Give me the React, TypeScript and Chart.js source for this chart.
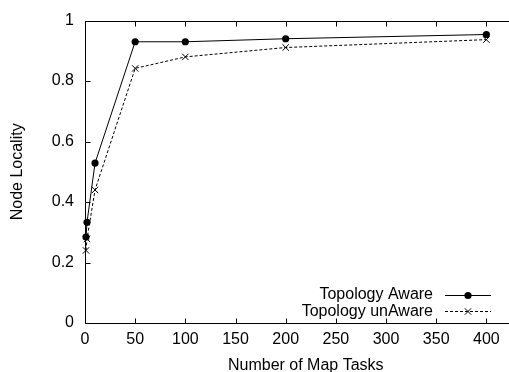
import React, { useEffect, useRef } from 'react';
import { Chart, registerables } from 'chart.js';

Chart.register(...registerables);

// ---- data ----
const mapTasks = [1, 2, 10, 50, 100, 200, 400];
const awareLocality = [0.284, 0.333, 0.529, 0.930, 0.930, 0.940, 0.954];
const unawareLocality = [0.240, 0.278, 0.440, 0.842, 0.880, 0.911, 0.937];
const seriesLabels = ['Topology Aware', 'Topology unAware'];
const xTickValues = [0, 50, 100, 150, 200, 250, 300, 350, 400];
const yTickValues = [0, 0.2, 0.4, 0.6, 0.8, 1];
const xTitle = 'Number of Map Tasks';
const yTitle = 'Node Locality';

const FONT = '"Liberation Sans", Arial, Helvetica, sans-serif';

const framePlugin = {
  id: 'gnuFrame',
  beforeDatasetsDraw(chart: any) {
    const { ctx, chartArea: a, scales } = chart;
    ctx.save();
    ctx.strokeStyle = '#000';
    ctx.lineWidth = 1;
    ctx.setLineDash([]);
    const L = Math.round(a.left) + 0.5;
    const R = Math.round(a.right) - 0.5;
    const T = Math.round(a.top) + 0.5;
    const B = Math.round(a.bottom) + 0.5;
    ctx.beginPath();
    ctx.moveTo(L, T);
    ctx.lineTo(R, T);
    ctx.lineTo(R, B);
    ctx.lineTo(L, B);
    ctx.closePath();
    const t = 5;
    scales.x.ticks.forEach((tk: any) => {
      const px = Math.round(scales.x.getPixelForValue(tk.value)) + 0.5;
      ctx.moveTo(px, B);
      ctx.lineTo(px, B - t);
      ctx.moveTo(px, T);
      ctx.lineTo(px, T + t);
    });
    scales.y.ticks.forEach((tk: any) => {
      const py = Math.round(scales.y.getPixelForValue(tk.value)) + 0.5;
      ctx.moveTo(L, py);
      ctx.lineTo(L + t, py);
      ctx.moveTo(R, py);
      ctx.lineTo(R - t, py);
    });
    ctx.stroke();
    ctx.restore();
  },
};

const keyPlugin = {
  id: 'gnuKey',
  afterDatasetsDraw(chart: any) {
    const { ctx } = chart;
    ctx.save();
    chart.data.datasets.forEach((ds: any, i: number) => {
      const y = 295 + i * 16.3;
      ctx.font = `16px ${FONT}`;
      ctx.fillStyle = '#000';
      ctx.textAlign = 'right';
      ctx.textBaseline = 'middle';
      ctx.fillText(ds.label, 433, y);
      ctx.strokeStyle = '#000';
      ctx.lineWidth = ds.borderWidth;
      ctx.setLineDash(ds.borderDash || []);
      ctx.beginPath();
      ctx.moveTo(445, Math.round(y) + 0.5);
      ctx.lineTo(491, Math.round(y) + 0.5);
      ctx.stroke();
      ctx.setLineDash([]);
      const mx = 468;
      const my = Math.round(y) + 0.5;
      if (ds.pointStyle === 'circle') {
        ctx.fillStyle = '#000';
        ctx.beginPath();
        ctx.arc(mx, my, ds.pointRadius, 0, Math.PI * 2);
        ctx.fill();
      } else {
        const r = ds.pointRadius * Math.SQRT1_2;
        ctx.beginPath();
        ctx.moveTo(mx - r, my - r);
        ctx.lineTo(mx + r, my + r);
        ctx.moveTo(mx - r, my + r);
        ctx.lineTo(mx + r, my - r);
        ctx.stroke();
      }
    });
    ctx.restore();
  },
};

export default function App() {
  const ref = useRef<HTMLCanvasElement>(null);

  useEffect(() => {
    Chart.defaults.font.family = FONT;
    Chart.defaults.color = '#000';
    const chart = new Chart(ref.current as HTMLCanvasElement, {
      type: 'line',
      data: {
        datasets: [
          {
            label: seriesLabels[0],
            data: mapTasks.map((x, i) => ({ x, y: awareLocality[i] })),
            borderColor: '#000',
            backgroundColor: '#000',
            borderWidth: 1,
            pointStyle: 'circle',
            pointRadius: 3.6,
            pointBorderWidth: 0,
            pointBackgroundColor: '#000',
            tension: 0,
            clip: false,
          } as any,
          {
            label: seriesLabels[1],
            data: mapTasks.map((x, i) => ({ x, y: unawareLocality[i] })),
            borderColor: '#000',
            backgroundColor: '#000',
            borderWidth: 1,
            borderDash: [3, 2],
            pointStyle: 'crossRot',
            pointRadius: 4.5,
            pointBorderWidth: 1,
            pointBorderColor: '#000',
            tension: 0,
            clip: false,
          } as any,
        ],
      },
      options: {
        responsive: false,
        animation: false,
        devicePixelRatio: 1,
        events: [],
        layout: { padding: { top: 16, left: 0, right: 0, bottom: 0 } },
        plugins: {
          legend: { display: false },
          tooltip: { enabled: false },
        },
        scales: {
          x: {
            type: 'linear',
            min: 0,
            max: 440,
            grid: { display: false, drawTicks: false },
            border: { display: false },
            afterBuildTicks: (s: any) => {
              s.ticks = xTickValues.map((v) => ({ value: v }));
            },
            afterFit: (s: any) => {
              s.height = 52;
            },
            ticks: {
              padding: 7,
              color: '#000',
              font: { size: 16 },
              maxRotation: 0,
              autoSkip: false,
              callback: (v: any) => String(v),
            },
            title: {
              display: true,
              text: xTitle,
              color: '#000',
              font: { size: 16 },
              padding: { top: 0, bottom: 0 },
            },
          },
          y: {
            type: 'linear',
            min: 0,
            max: 1,
            grid: { display: false, drawTicks: false },
            border: { display: false },
            afterBuildTicks: (s: any) => {
              s.ticks = yTickValues.map((v) => ({ value: v }));
            },
            afterFit: (s: any) => {
              s.width = 85;
            },
            ticks: {
              padding: 11,
              color: '#000',
              font: { size: 16 },
              callback: (v: any) => String(Number(Number(v).toFixed(1))),
            },
            title: {
              display: true,
              text: yTitle,
              color: '#000',
              font: { size: 16 },
              padding: { top: 8, bottom: 0 },
            },
          },
        },
      } as any,
      plugins: [framePlugin, keyPlugin],
    });
    return () => chart.destroy();
  }, []);

  return (
    <div
      style={{
        position: 'fixed',
        left: 0,
        top: 0,
        width: 509,
        height: 372,
        overflow: 'hidden',
        background: '#fff',
      }}
    >
      <canvas
        ref={ref}
        width={532}
        height={375}
        style={{ display: 'block', width: 532, height: 375 }}
      />
    </div>
  );
}
